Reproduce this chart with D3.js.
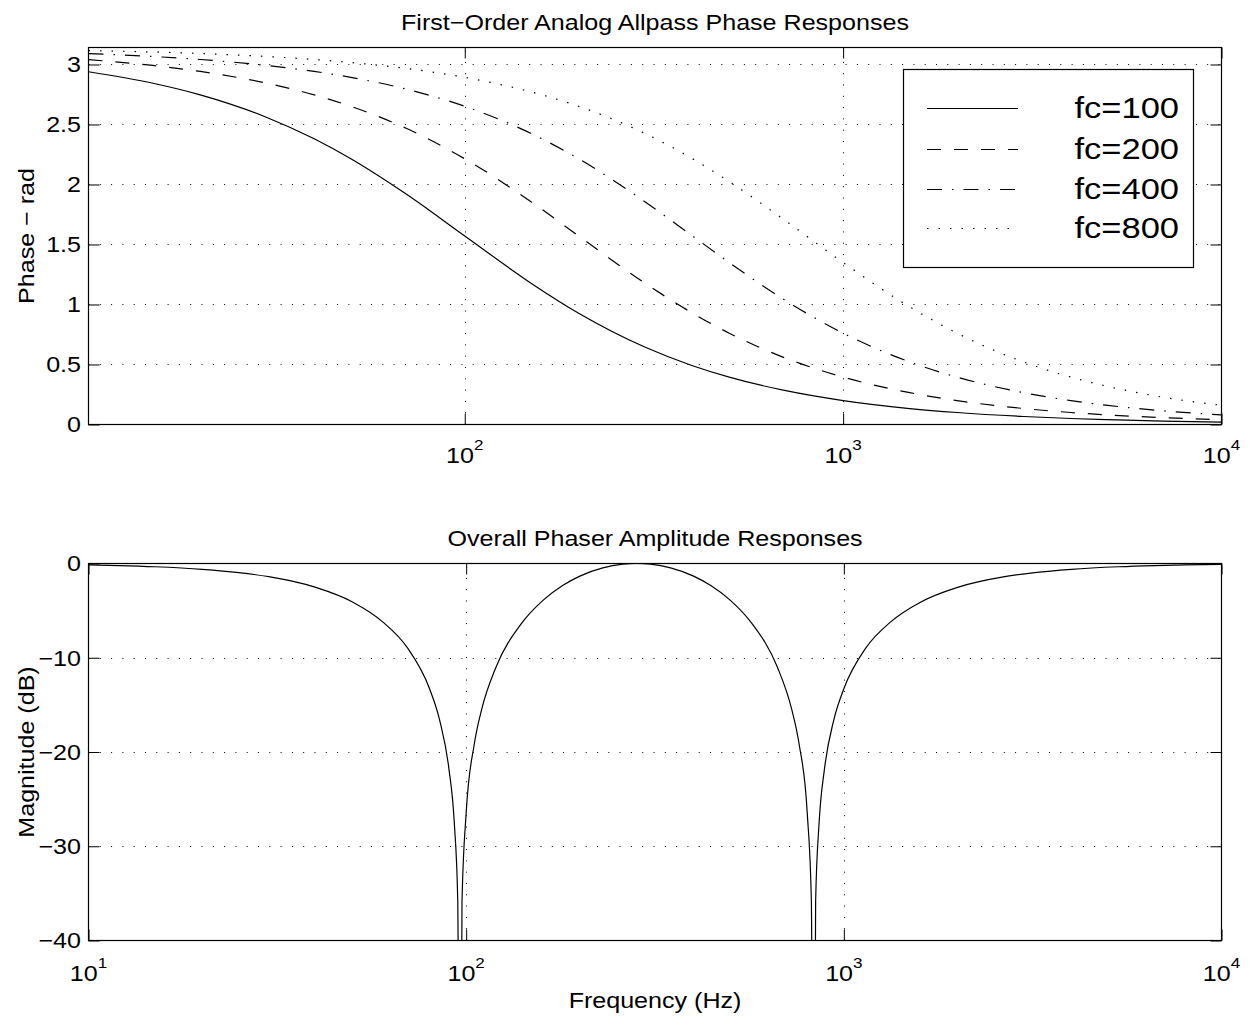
<!DOCTYPE html>
<html><head><meta charset="utf-8">
<script src="https://cdn.jsdelivr.net/npm/d3@7"></script>
<style>
body{margin:0;background:#fff}
text{font-family:"Liberation Sans",Arial,sans-serif;fill:#000}
</style>
</head><body>
<svg id="c" width="1250" height="1016"></svg>
<script>
// ---------- data ----------
const phaseFreqs = [10.13, 15, 20, 30, 40, 50, 70, 100, 150, 200, 300, 400, 500, 700, 1000, 1500, 2000, 3000, 4000, 5000, 7000, 10000];
const phaseFc100 = [2.9397, 2.8438, 2.7468, 2.5587, 2.3806, 2.2143, 1.9201, 1.5708, 1.1760, 0.9273, 0.6435, 0.4900, 0.3948, 0.2838, 0.1993, 0.1331, 0.0999, 0.0666, 0.0500, 0.0400, 0.0286, 0.0200];
const phaseFc200 = [3.0404, 2.9919, 2.9423, 2.8438, 2.7468, 2.6516, 2.4683, 2.2143, 1.8546, 1.5708, 1.1760, 0.9273, 0.7610, 0.5566, 0.3948, 0.2651, 0.1993, 0.1331, 0.0999, 0.0800, 0.0571, 0.0400];
const phaseFc400 = [3.0910, 3.0666, 3.0417, 2.9919, 2.9423, 2.8929, 2.7951, 2.6516, 2.4241, 2.2143, 1.8546, 1.5708, 1.3495, 1.0383, 0.7610, 0.5212, 0.3948, 0.2651, 0.1993, 0.1597, 0.1142, 0.0800];
const phaseFc800 = [3.1163, 3.1041, 3.0916, 3.0666, 3.0417, 3.0168, 2.9670, 2.8929, 2.7709, 2.6516, 2.4241, 2.2143, 2.0244, 1.7039, 1.3495, 0.9799, 0.7610, 0.5212, 0.3948, 0.3173, 0.2276, 0.1597];
const seriesNames = ["fc=100", "fc=200", "fc=400", "fc=800"];

const magFreqs = [10, 12, 15, 20, 25, 30, 40, 50, 60, 70, 80, 85, 90, 93, 95, 96.25, 97.5, 100, 105, 110,
  120, 140, 160, 180, 200, 230, 260, 282.8, 307.7, 347.8, 400, 444.4, 500, 571.4, 666.7, 727.3, 761.9, 800, 820.5, 831.2,
  842.1, 860.2, 888.9, 941.2, 1000, 1142.9, 1333.3, 1600, 2000, 2666.7, 3200, 4000, 5333, 6667, 8000, 10000];
const magDb = [-0.153, -0.220, -0.345, -0.615, -0.966, -1.400, -2.536, -4.079, -6.166, -8.984, -13.29, -16.56, -21.76, -27.47, -35.78, -80, -35.9, -26.46, -19.23, -15.43,
  -10.99, -6.379, -3.882, -2.335, -1.335, -0.464, -0.0765, 0, -0.0765, -0.464, -1.335, -2.335, -3.882, -6.379, -10.99, -15.43, -19.23, -26.46, -35.9, -80,
  -35.78, -27.47, -21.76, -16.56, -13.29, -8.984, -6.166, -4.079, -2.536, -1.400, -0.966, -0.615, -0.345, -0.220, -0.153, -0.098];

const phaseTicks = [0, 0.5, 1, 1.5, 2, 2.5, 3];
const phaseTickLabels = ["0", "0.5", "1", "1.5", "2", "2.5", "3"];
const magTicks = [0, -10, -20, -30, -40];
const magTickLabels = ["0", "\u221210", "\u221220", "\u221230", "\u221240"];
const topFreqTicks = [100, 1000, 10000];
const freqTicks = [10, 100, 1000, 10000];
const freqExponents = {10: "1", 100: "2", 1000: "3", 10000: "4"};

const titles = ["First\u2212Order Analog Allpass Phase Responses", "Overall Phaser Amplitude Responses"];
const yLabels = ["Phase \u2212 rad", "Magnitude (dB)"];
const xLabel = "Frequency (Hz)";

// ---------- layout ----------
const L = 88.5, R = 1221.5;
const svg = d3.select("#c");
const FS = 22;
const SX = 1.14;     // horizontal stretch of the text
const TICK = 11;

const dashStyles = [null, "14,13", "15,10,1.5,10", "1.5,10"];

function addText(parent, x, y, str, opt = {}) {
  const rot = opt.rotate ? ` rotate(${opt.rotate})` : "";
  return parent.append("text")
    .attr("transform", `translate(${x},${y})${rot} scale(${opt.sx || SX},1)`)
    .attr("text-anchor", opt.anchor || "middle")
    .attr("dy", opt.dy || null)
    .attr("font-size", opt.size || FS)
    .text(str);
}

function makePanel(cfg) {
  const g = svg.append("g");
  const x = d3.scaleLog().domain(cfg.xDomain).range([L, R]);
  const y = d3.scaleLinear().domain(cfg.yDomain).range([cfg.bottom, cfg.top]);
  const clipId = "clip" + cfg.id;
  svg.append("clipPath").attr("id", clipId).append("rect")
    .attr("x", L).attr("y", cfg.top).attr("width", R - L).attr("height", cfg.bottom - cfg.top);

  // grid
  const grid = g.append("g").attr("stroke", "#000").attr("stroke-width", 1).attr("stroke-dasharray", "1,10.3");
  cfg.xTicks.filter(v => x(v) > L + 1 && x(v) < R - 1).forEach(v => {
    grid.append("line").attr("x1", Math.round(x(v)) + 0.5).attr("x2", Math.round(x(v)) + 0.5)
      .attr("y1", cfg.bottom).attr("y2", cfg.top);
  });
  cfg.yTicks.filter(v => y(v) > cfg.top + 1 && y(v) < cfg.bottom - 1).forEach(v => {
    grid.append("line").attr("x1", L).attr("x2", R)
      .attr("y1", Math.round(y(v)) + 0.5).attr("y2", Math.round(y(v)) + 0.5);
  });

  // axes ticks (inward, all four sides)
  const axB = d3.axisBottom(x).tickValues(cfg.xTicks).tickFormat("").tickSizeInner(-TICK).tickSizeOuter(0);
  const axT = d3.axisTop(x).tickValues(cfg.xTicks).tickFormat("").tickSizeInner(-TICK).tickSizeOuter(0);
  const axLf = d3.axisLeft(y).tickValues(cfg.yTicks).tickFormat("").tickSizeInner(-TICK).tickSizeOuter(0);
  const axRt = d3.axisRight(y).tickValues(cfg.yTicks).tickFormat("").tickSizeInner(-TICK).tickSizeOuter(0);
  [[axB, `translate(0,${cfg.bottom})`], [axT, `translate(0,${cfg.top})`],
   [axLf, `translate(${L},0)`], [axRt, `translate(${R},0)`]].forEach(([ax, tr]) => {
    const a = g.append("g").attr("transform", tr).call(ax);
    a.select(".domain").remove();
    a.selectAll("line").attr("stroke", "#000").attr("stroke-width", 1);
  });

  // y tick labels
  cfg.yTicks.forEach((v, i) => {
    addText(g, 81, y(v), cfg.yTickLabels[i], {anchor: "end", dy: "0.36em"});
  });
  // x tick labels with superscript exponents
  cfg.xTicks.forEach(v => {
    const t = addText(g, x(v), cfg.bottom + cfg.xLabelOff, "", {anchor: "middle"});
    t.append("tspan").text("10");
    t.append("tspan").attr("font-size", 15).attr("dy", -13).text(freqExponents[v]);
  });

  // box
  g.append("rect").attr("x", L).attr("y", cfg.top).attr("width", R - L).attr("height", cfg.bottom - cfg.top)
    .attr("fill", "none").attr("stroke", "#000").attr("stroke-width", 1.2);

  // title
  addText(g, (L + R) / 2, cfg.titleY, cfg.title);
  // y label
  addText(g, 34, (cfg.top + cfg.bottom) / 2, cfg.yLabel, {rotate: -90});

  return {g, x, y, clipId};
}

// ---------- top panel ----------
const phasePanel = makePanel({
  id: 1, xDomain: [10.13, 10000], yDomain: [0, 3.1416], top: 47.5, bottom: 424.5,
  xTicks: topFreqTicks, yTicks: phaseTicks, yTickLabels: phaseTickLabels,
  xLabelOff: 38, titleY: 30, title: titles[0], yLabel: yLabels[0]
});
const phaseSeries = [phaseFc100, phaseFc200, phaseFc400, phaseFc800];
const lineTop = d3.line().x(d => phasePanel.x(d[0])).y(d => phasePanel.y(d[1])).curve(d3.curveMonotoneX);
const curvesTop = phasePanel.g.append("g").attr("clip-path", `url(#${phasePanel.clipId})`);
phaseSeries.forEach((s, i) => {
  curvesTop.append("path").datum(phaseFreqs.map((f, j) => [f, s[j]]))
    .attr("d", lineTop).attr("fill", "none").attr("stroke", "#000").attr("stroke-width", 1.2)
    .attr("stroke-dasharray", dashStyles[i]);
});

// legend
const lg = phasePanel.g.append("g");
lg.append("rect").attr("x", 903.5).attr("y", 69.5).attr("width", 290).attr("height", 198)
  .attr("fill", "#fff").attr("stroke", "#000").attr("stroke-width", 1.2);
const legendRows = [108, 149, 189, 228];
seriesNames.forEach((name, i) => {
  lg.append("line").attr("x1", 927).attr("x2", 1018).attr("y1", legendRows[i] + 0.5).attr("y2", legendRows[i] + 0.5)
    .attr("stroke", "#000").attr("stroke-width", 1.2).attr("stroke-dasharray", dashStyles[i]);
  addText(lg, 1179, legendRows[i], name, {anchor: "end", dy: "0.36em", size: 29, sx: 1.19});
});

// ---------- bottom panel ----------
const magPanel = makePanel({
  id: 2, xDomain: [10, 10000], yDomain: [-40, 0], top: 563.5, bottom: 940.5,
  xTicks: freqTicks, yTicks: magTicks, yTickLabels: magTickLabels,
  xLabelOff: 40, titleY: 546, title: titles[1], yLabel: yLabels[1]
});
const lineBot = d3.line().x(d => magPanel.x(d[0])).y(d => magPanel.y(d[1])).curve(d3.curveMonotoneX);
magPanel.g.append("g").attr("clip-path", `url(#${magPanel.clipId})`).append("path")
  .datum(magFreqs.map((f, j) => [f, magDb[j]]))
  .attr("d", lineBot).attr("fill", "none").attr("stroke", "#000").attr("stroke-width", 1.2);

addText(svg, (L + R) / 2, 1008, xLabel);
</script>
</body></html>
